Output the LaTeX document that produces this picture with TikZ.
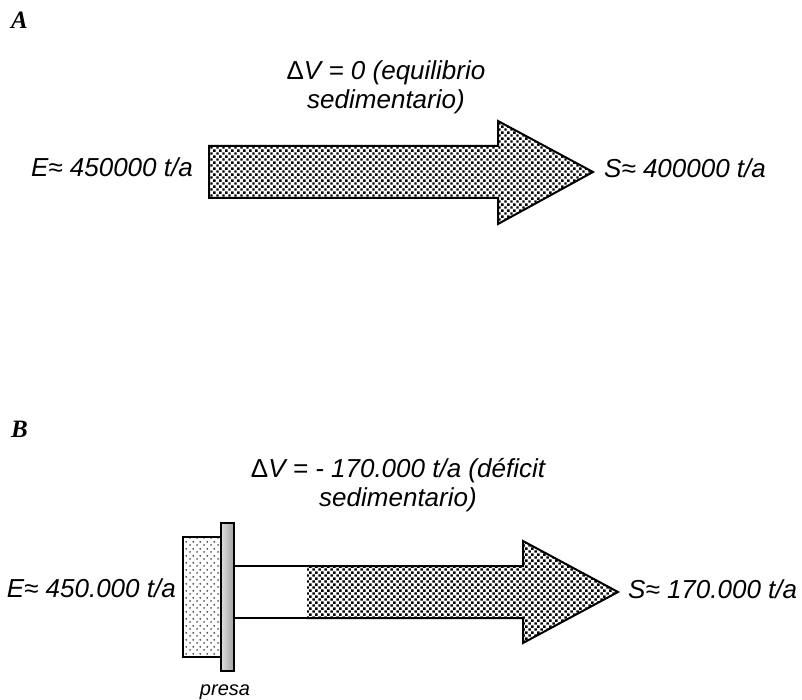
\documentclass[tikz,border=0pt]{standalone}
\usepackage{fontspec}
\setmainfont{Liberation Sans}
\newfontfamily\tmsfont{Liberation Serif}
\usetikzlibrary{patterns}
\pgfdeclarepatternformonly{sedflow}{\pgfpointorigin}{\pgfpoint{6.4pt}{6.4pt}}{\pgfpoint{6.4pt}{6.4pt}}{%
  \pgfpathrectangle{\pgfpoint{0.3pt}{0.3pt}}{\pgfpoint{2.7pt}{2.7pt}}%
  \pgfpathrectangle{\pgfpoint{3.5pt}{3.5pt}}{\pgfpoint{2.7pt}{2.7pt}}%
  \pgfusepath{fill}}
\pgfdeclarepatternformonly{sedres}{\pgfpointorigin}{\pgfpoint{7pt}{7pt}}{\pgfpoint{7pt}{7pt}}{%
  \pgfpathcircle{\pgfpoint{1.2pt}{1.2pt}}{1.1pt}%
  \pgfpathcircle{\pgfpoint{4.7pt}{4.7pt}}{1.1pt}%
  \pgfusepath{fill}}
\tikzset{
  lbl/.style={font=\fontsize{26}{29}\selectfont\itshape, inner sep=0pt},
  lblc/.style={lbl, align=center},
  panel/.style={font=\fontsize{25}{27}\selectfont\tmsfont\bfseries\itshape, inner sep=0pt},
  small/.style={font=\fontsize{20}{24}\selectfont\itshape, inner sep=0pt},
  flow/.style={pattern=sedflow, pattern color=black},
  border/.style={draw=black, line width=2pt, line join=miter}
}
\begin{document}
\begin{tikzpicture}[x=1pt,y=-1pt]
\useasboundingbox (0,0) rectangle (802,700);
% Panel A
\node[panel, anchor=base west] (pa) at (11,29) {A};
\node[lblc, anchor=base] (dva) at (386,109) {\upshape Δ\itshape V = 0 (equilibrio\\sedimentario)};
\fill[flow] (209,146) -- (498,146) -- (498,121) -- (593,172) -- (498,224) -- (498,198) -- (209,198) -- cycle;
\draw[border] (209,146) -- (498,146) -- (498,121) -- (593,172) -- (498,224) -- (498,198) -- (209,198) -- cycle;
\node[lbl, anchor=base east] (ea) at (193,177) {E≈ 450000 t/a};
\node[lbl, anchor=base west] (sa) at (604,178) {S≈ 400000 t/a};
% Panel B
\node[panel, anchor=base west] (pb) at (11,437) {B};
\node[lblc, anchor=base] (dvb) at (398,506) {\upshape Δ\itshape V = - 170.000 t/a (déficit\\sedimentario)};
% reservoir
\fill[pattern=sedres, pattern color=black!70] (183,537) rectangle (221,657);
\draw[line width=1.5pt] (221,537) -- (183,537) -- (183,657) -- (221,657);
% white segment
\draw[line width=1.5pt] (234,566) -- (308,566);
\draw[line width=1.2pt] (234,618) -- (308,618);
% patterned arrow
\fill[flow] (307,566) -- (523,566) -- (523,541) -- (618,592) -- (523,643) -- (523,618) -- (307,618) -- cycle;
\draw[border] (307,566) -- (523,566) -- (523,541) -- (618,592) -- (523,643) -- (523,618) -- (307,618);
% dam
\shade[left color=gray!25, right color=gray!75] (221,523) rectangle (234,671);
\draw[line width=1.5pt] (221,523) rectangle (234,671);
\node[lbl, anchor=base east] (eb) at (176,597) {E≈ 450.000 t/a};
\node[lbl, anchor=base west] (sb) at (628,598) {S≈ 170.000 t/a};
\node[small, anchor=base] (presa) at (225,695) {presa};
\end{tikzpicture}
\end{document}
